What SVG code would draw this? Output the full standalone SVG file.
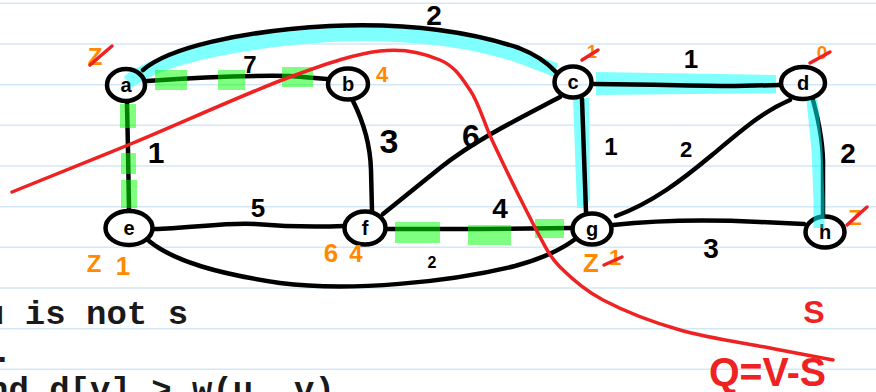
<svg xmlns="http://www.w3.org/2000/svg" width="876" height="392" viewBox="0 0 876 392">
<style>
.rule{stroke:#d4e7f6;stroke-width:1.6}
.edge{fill:none;stroke:#000;stroke-width:4.5;stroke-linecap:round;stroke-linejoin:round}
.node{fill:none;stroke:#000;stroke-width:4.5}
.nl{font-family:"Liberation Sans",Arial,sans-serif;font-weight:bold;font-size:20px;text-anchor:middle;fill:#000}
.w{font-family:"Liberation Sans",Arial,sans-serif;font-weight:bold;text-anchor:middle;fill:#000}
.or{font-family:"Liberation Sans",Arial,sans-serif;font-weight:bold;text-anchor:middle;fill:#ff8a00}
.rs{stroke:#ee2222;stroke-width:3.5;stroke-linecap:round;fill:none}
.cy{fill:#80ffff}
.gr{fill:#00ff00;fill-opacity:0.5}
.rt{font-family:"Liberation Sans",Arial,sans-serif;font-weight:bold;fill:#ee2222}
.code{font-family:"Liberation Mono","Courier New",monospace;font-weight:bold;font-size:34px;fill:#1a1a1a}
</style>
<rect width="876" height="392" fill="#fff"/>
<g id="rules">
<line class="rule" x1="0" y1="3.3" x2="876" y2="3.3"/>
<line class="rule" x1="0" y1="44" x2="876" y2="44"/>
<line class="rule" x1="0" y1="84.7" x2="876" y2="84.7"/>
<line class="rule" x1="0" y1="125.3" x2="876" y2="125.3"/>
<line class="rule" x1="0" y1="166" x2="876" y2="166"/>
<line class="rule" x1="0" y1="206.7" x2="876" y2="206.7"/>
<line class="rule" x1="0" y1="247.3" x2="876" y2="247.3"/>
<line class="rule" x1="0" y1="288" x2="876" y2="288"/>
<line class="rule" x1="0" y1="328.7" x2="876" y2="328.7"/>
<line class="rule" x1="0" y1="369.3" x2="876" y2="369.3"/>
</g>
<g id="highlights-under">
<path d="M128,82 C160,57 240,41 330,35 C400,32 465,38 519,56 L556,70" fill="none" stroke="#80ffff" stroke-width="14"/>
<polygon class="cy" points="596,72 776,75 776,93 596,95"/>
<polygon class="cy" points="573,98 589,98 590,200 584,208 577,208"/>
</g>
<g id="edges">
<path class="edge" d="M143,70 C168,48 240,31 330,26 C400,23 465,30 519,48 Q542,57 556,72"/>
<path class="edge" d="M147,81 C190,78 240,75 290,76 L327,79"/>
<path class="edge" d="M127,103 L128,150 L129,210"/>
<path class="edge" d="M353,101 Q370,135 371,170 L372,211"/>
<path class="edge" d="M560,97 C520,118 475,140 440,168 L383,214"/>
<path class="edge" d="M593,84 C640,84 690,86 735,86 L780,85"/>
<path class="edge" d="M582,99 L586,212"/>
<path class="edge" d="M790,100 C762,112 742,130 712,155 C682,180 652,203 616,216"/>
<path class="edge" d="M813,100 Q824,140 823,170 L823,215"/>
<path class="edge" d="M154,229 C190,228 230,222 255,224 C290,227 320,227 344,226"/>
<path class="edge" d="M149,241 C175,262 220,274 280,283 C350,292 450,282 515,266 Q552,256 574,240"/>
<path class="edge" d="M387,229 L480,229 L572,228"/>
<path class="edge" d="M613,225 C650,221 700,219 760,222 L804,224"/>
</g>
<g id="node-a"><ellipse class="node" cx="126" cy="85" rx="19" ry="16"/><text class="nl" x="126" y="92">a</text></g>
<g id="node-b"><ellipse class="node" cx="348" cy="84" rx="20" ry="15.5"/><text class="nl" x="348" y="91">b</text></g>
<g id="node-c"><ellipse class="node" cx="573" cy="82" rx="18.5" ry="15.5"/><text class="nl" x="573" y="89">c</text></g>
<g id="node-d"><ellipse class="node" cx="803" cy="83" rx="22" ry="16"/><text class="nl" x="803" y="90">d</text></g>
<g id="node-e"><ellipse class="node" cx="129" cy="228" rx="23.5" ry="17"/><text class="nl" x="129" y="235">e</text></g>
<g id="node-f"><ellipse class="node" cx="365" cy="228" rx="20.5" ry="16.5"/><text class="nl" x="365" y="235">f</text></g>
<g id="node-g"><ellipse class="node" cx="592" cy="229" rx="19.5" ry="15.5"/><text class="nl" x="592" y="236">g</text></g>
<g id="node-h"><ellipse class="node" cx="825" cy="232" rx="19.5" ry="15.5"/><text class="nl" x="825" y="239">h</text></g>
<g id="highlights-over">
<rect class="gr" x="155" y="70" width="32" height="20"/>
<rect class="gr" x="218" y="70" width="27" height="20"/>
<rect class="gr" x="282" y="67" width="31" height="20"/>
<rect class="gr" x="120" y="104" width="16" height="24"/>
<rect class="gr" x="121" y="153" width="15" height="21"/>
<rect class="gr" x="121" y="180" width="16" height="28"/>
<rect class="gr" x="395" y="222" width="45" height="21"/>
<rect class="gr" x="468" y="225" width="43" height="20"/>
<rect class="gr" x="535" y="219" width="29" height="19"/>
<path d="M812,100 L817,150 L819,200 L819,228" fill="none" stroke="#00ffff" stroke-opacity="0.5" stroke-width="11"/>
</g>
<g id="weights">
<text class="w" x="434" y="25" font-size="28">2</text>
<text class="w" x="250" y="73" font-size="24">7</text>
<text class="w" x="156" y="163" font-size="30">1</text>
<text class="w" x="389" y="153" font-size="34">3</text>
<text class="w" x="471" y="147" font-size="32">6</text>
<text class="w" x="691" y="68" font-size="26">1</text>
<text class="w" x="611" y="155" font-size="24">1</text>
<text class="w" x="686" y="157" font-size="22">2</text>
<text class="w" x="848" y="163" font-size="28">2</text>
<text class="w" x="258" y="217" font-size="26">5</text>
<text class="w" x="500" y="218" font-size="28">4</text>
<text class="w" x="432" y="268" font-size="16">2</text>
<text class="w" x="711" y="258" font-size="28">3</text>
</g>
<g id="distances">
<text class="or" x="95" y="65" font-size="24">Z</text>
<text class="or" x="382" y="82" font-size="22">4</text>
<text class="or" x="592" y="58" font-size="18">1</text>
<text class="or" x="822" y="59" font-size="19">0</text>
<text class="or" x="94" y="272" font-size="24">Z</text>
<text class="or" x="123" y="275" font-size="26">1</text>
<text class="or" x="331" y="262" font-size="26">6</text>
<text class="or" x="356" y="262" font-size="24">4</text>
<text class="or" x="591" y="272" font-size="26">Z</text>
<text class="or" x="615" y="265" font-size="22">1</text>
<text class="or" x="855" y="225" font-size="22">Z</text>
<line class="rs" x1="90" y1="65" x2="112" y2="46"/>
<line class="rs" x1="582" y1="60" x2="598" y2="50"/>
<line class="rs" x1="810" y1="63" x2="830" y2="52"/>
<line class="rs" x1="604" y1="265" x2="622" y2="257"/>
<line class="rs" x1="847" y1="225" x2="867" y2="207"/>
</g>
<g id="cut">
<path class="rs" d="M12,192 C32,184 87,162 133,143 C179,124 249,92 290,77 C331,62 355,54 380,51 C405,48 425,53.5 440,60 C455,66.5 461,77 470,90 C479,103 484,123 492,140 C500,157 508,174 516,190 C524,206 533,224 540,237 C547,250 550,256.5 560,267 C570.5,277.5 583,289.5 603,300 C623,310.5 652,322 680,330 C708,338 744.5,343 770,348 C795.5,353 822.5,358 833,360"/>
<text class="rt" x="814" y="323" font-size="32" text-anchor="middle">S</text>
<text class="rt" x="709" y="386" font-size="40" textLength="117" lengthAdjust="spacingAndGlyphs">Q=V-S</text>
</g>
<g id="code">
<text class="code" x="-16" y="324">u is not s</text>
<text class="code" x="-8" y="362">.</text>
<text class="code" x="-12" y="400">nd d[v] &gt; w(u, v)</text>
</g>
</svg>
